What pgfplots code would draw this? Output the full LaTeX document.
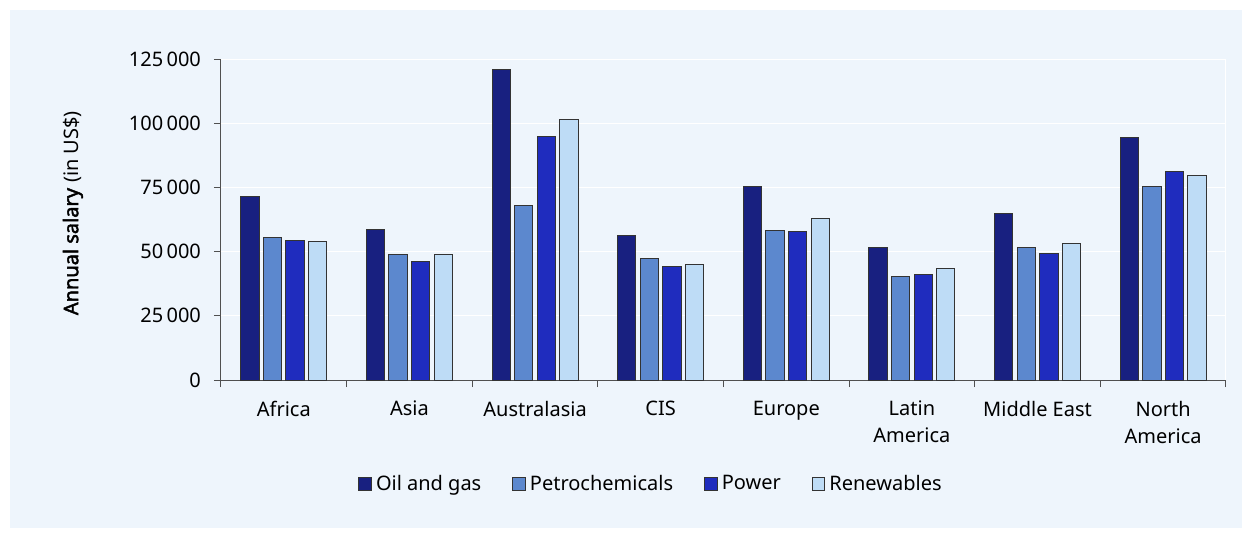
\documentclass[border=0pt]{standalone}
\usepackage{fontspec}
\setmainfont{Noto Sans}
\newfontfamily\notobold{Noto Sans}[FakeBold=2.2]
\usepackage{pgfplots}
\pgfplotsset{compat=1.18}

\definecolor{bgblue}{RGB}{238,245,252}
\definecolor{oilgas}{RGB}{24,32,128}
\definecolor{petro}{RGB}{92,136,206}
\definecolor{power}{RGB}{31,44,190}
\definecolor{renew}{RGB}{190,220,246}
\definecolor{axisgray}{RGB}{80,80,80}

% salaries in US$, categories at 0..7
\pgfplotstableread{
x oil petro power renew
0 71400 55400 54500 54000
1 58700 48700 46200 48900
2 121100 67900 94900 101500
3 56300 47500 44100 45000
4 75500 58400 58000 63000
5 51700 40200 41100 43400
6 64900 51700 49100 53000
7 94400 75300 81100 79800
}\salary

\begin{document}
\begin{tikzpicture}[font=\fontsize{10}{13.5}\selectfont]
\fill[white] (-110.5pt,-79pt) rectangle (515.5pt,190pt);
\fill[bgblue] (-105.5pt,-74pt) rectangle (510.5pt,185pt);
\path[use as bounding box] (-110.5pt,-79pt) rectangle (515.5pt,190pt);
\begin{axis}[
    at={(0,0)}, anchor=south west,
    scale only axis,
    width=502.5pt, height=160.5pt,
    ybar=2.15pt, bar width=9.15pt,
    xmin=-0.5, xmax=7.5,
    ymin=0, ymax=125000,
    axis lines=left,
    axis line style={-, axisgray, line width=0.5pt},
    tick style={axisgray, line width=0.5pt},
    tick align=outside,
    major tick length=3.5pt,
    xtick={-0.5,0.5,...,7.5},
    x tick label as interval,
    xticklabels={Africa, Asia, Australasia, CIS, Europe, {Latin\\America}, Middle East, {North\\America}},
    xticklabel style={align=center, font=\fontsize{10}{13.5}\selectfont, yshift=-3.5pt},
    scaled y ticks=false,
    ytick={0,25000,50000,75000,100000,125000},
    yticklabels={0, 25\,000, 50\,000, 75\,000, 100\,000, 125\,000},
    yticklabel style={xshift=-3pt},
    ymajorgrids,
    grid style={white, line width=0.5pt},
    ylabel={{\notobold Annual salary} (in US\$)},
    ylabel style={at={(axis description cs:-0.1473,0.52)}, anchor=center},
    legend columns=4,
    legend style={draw=none, fill=none, at={(axis description cs:0.4289,-0.324)}, anchor=center,
        inner sep=0pt, /tikz/every even column/.append style={column sep=13.5pt},
        font=\fontsize{10}{12}\selectfont},
    legend image code/.code={\draw[#1, draw=black!80, line width=0.5pt] (0pt,-3.1pt) rectangle (6.3pt,3.1pt);},
    every axis plot/.append style={draw=black!80, line width=0.5pt},
]
\addplot[fill=oilgas] table[x=x, y=oil] {\salary};
\addplot[fill=petro] table[x=x, y=petro] {\salary};
\addplot[fill=power] table[x=x, y=power] {\salary};
\addplot[fill=renew] table[x=x, y=renew] {\salary};
\legend{Oil and gas, Petrochemicals, Power, Renewables}
\draw[white, line width=0.5pt] (rel axis cs:1,0) -- (rel axis cs:1,1);
\end{axis}
\end{tikzpicture}
\end{document}
